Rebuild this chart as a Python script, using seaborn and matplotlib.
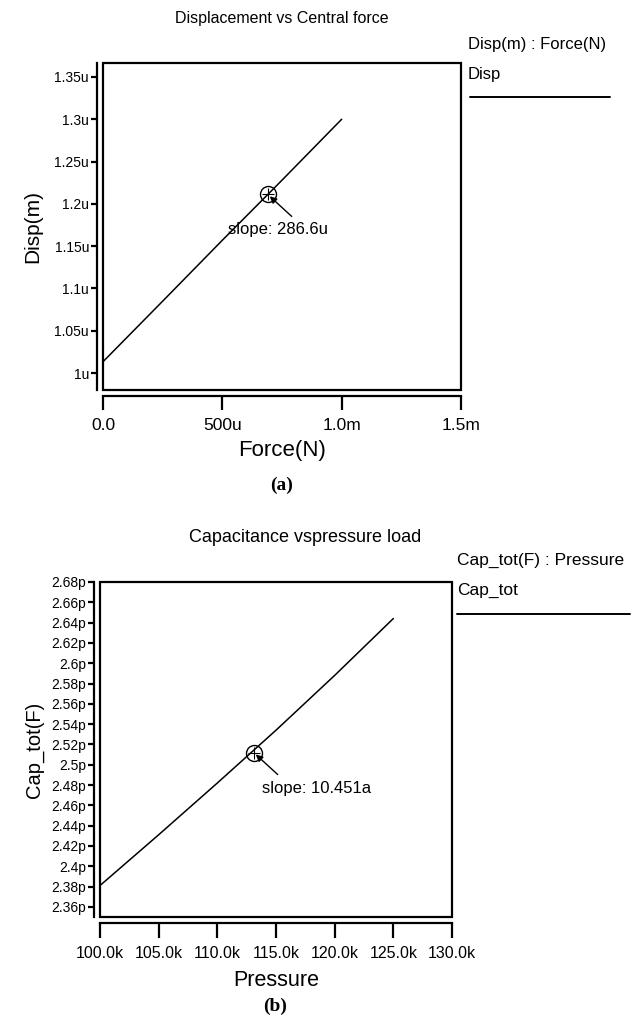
import matplotlib
matplotlib.use("Agg")
import matplotlib.pyplot as plt
from matplotlib.patches import Rectangle
from matplotlib.lines import Line2D
import seaborn as sns
import pandas as pd

# ---------------- data ----------------
force_N = [0.0, 0.25e-3, 0.5e-3, 0.75e-3, 1.0e-3]
disp_m = [1.0134e-6, 1.085e-6, 1.157e-6, 1.228e-6, 1.300e-6]
force_xticks = [0.0, 0.5e-3, 1.0e-3, 1.5e-3]
force_xticklabels = ["0.0", "500u", "1.0m", "1.5m"]
disp_yticks = [1.0e-6, 1.05e-6, 1.1e-6, 1.15e-6, 1.2e-6, 1.25e-6, 1.3e-6, 1.35e-6]
disp_yticklabels = ["1u", "1.05u", "1.1u", "1.15u", "1.2u", "1.25u", "1.3u", "1.35u"]
slope_a_xy = (0.69e-3, 1.2112e-6)
slope_a_text = "slope: 286.6u"

pressure = [100e3, 105e3, 110e3, 115e3, 120e3, 125e3]
cap_F = [2.381e-12, 2.431e-12, 2.482e-12, 2.534e-12, 2.588e-12, 2.644e-12]
pressure_xticks = [100e3, 105e3, 110e3, 115e3, 120e3, 125e3, 130e3]
pressure_xticklabels = ["100.0k", "105.0k", "110.0k", "115.0k", "120.0k", "125.0k", "130.0k"]
cap_yticks = [2.36e-12 + 0.02e-12 * i for i in range(17)]
cap_yticklabels = ["2.36p", "2.38p", "2.4p", "2.42p", "2.44p", "2.46p", "2.48p", "2.5p",
                   "2.52p", "2.54p", "2.56p", "2.58p", "2.6p", "2.62p", "2.64p", "2.66p", "2.68p"]
slope_b_xy = (113.1e3, 2.512e-12)
slope_b_text = "slope: 10.451a"

# ---------------- style ----------------
sns.set_theme(style="white")
plt.rcParams["font.family"] = ["Liberation Sans", "DejaVu Sans"]
plt.rcParams.update({"text.color": "black", "axes.labelcolor": "black",
                     "xtick.color": "black", "ytick.color": "black"})

W, H = 634, 1024
fig = plt.figure(figsize=(W / 100, H / 100), dpi=100)


def px_axes(l, t, r, b):
    return fig.add_axes([l / W, 1 - b / H, (r - l) / W, (b - t) / H])


def style_axes(ax, xticks, xlabels, yticks, ylabels, xtick_fs, ytick_fs, xlen):
    for s in ["top", "right"]:
        ax.spines[s].set_visible(False)
    for s in ["left", "bottom"]:
        ax.spines[s].set_color("black")
        ax.spines[s].set_linewidth(1.6)
        ax.spines[s].set_position(("outward", 4))
    ax.add_patch(Rectangle((0, 0), 1, 1, transform=ax.transAxes, fill=False,
                           edgecolor="black", linewidth=1.6, clip_on=False, zorder=5))
    ax.set_xticks(xticks)
    ax.set_xticklabels(xlabels, fontsize=xtick_fs, color="black")
    ax.set_yticks(yticks)
    ax.set_yticklabels(ylabels, fontsize=ytick_fs, color="black")
    ax.tick_params(axis="x", direction="out", length=xlen, width=1.6, color="black", pad=6,
                   bottom=True)
    ax.tick_params(axis="y", direction="out", length=4, width=1.6, color="black", pad=2,
                   left=True)
    ax.grid(False)


def marker(ax, xy, text, text_off):
    ax.plot([xy[0]], [xy[1]], marker="o", ms=11.5, mfc="none", mec="black", mew=1.0,
            zorder=6)
    ax.plot([xy[0]], [xy[1]], marker="+", ms=8, mec="black", mew=0.8, zorder=6,
            linestyle="none")
    ax.annotate("", xy=xy, xytext=(24, -22), textcoords="offset pixels",
                arrowprops=dict(arrowstyle="-|>", color="black", lw=1.0,
                                shrinkA=0, shrinkB=2, mutation_scale=10), zorder=7)
    ax.annotate(text, xy=xy, xytext=text_off, textcoords="offset pixels",
                ha="left", va="center", fontsize=12, color="black")


# ---------------- top chart ----------------
ax1 = px_axes(103, 63, 461, 390)
df1 = pd.DataFrame({"Force": force_N, "Disp": disp_m})
sns.lineplot(data=df1, x="Force", y="Disp", ax=ax1, color="black", linewidth=1.1)
ax1.set_xlim(0, 1.5e-3)
ax1.set_ylim(0.98e-6, 1.3665e-6)
style_axes(ax1, force_xticks, force_xticklabels, disp_yticks, disp_yticklabels,
           12.5, 10, 10)
ax1.set_xlabel("Force(N)", fontsize=16, labelpad=5)
ax1.set_ylabel("Disp(m)", fontsize=15, labelpad=9)
marker(ax1, slope_a_xy, slope_a_text, (-40, -35))

fig.text(282 / W, 1 - 18 / H, "Displacement vs Central force", ha="center", va="center",
         fontsize=11.5)
fig.text(468 / W, 1 - 45 / H, "Disp(m) : Force(N)", ha="left", va="center", fontsize=12)
fig.text(468 / W, 1 - 75 / H, "Disp", ha="left", va="center", fontsize=12)
fig.add_artist(Line2D([470 / W, 610 / W], [1 - 97 / H, 1 - 97 / H], color="black", lw=1.4))
fig.text(282 / W, 1 - 485 / H, "(a)", ha="center", va="center", fontsize=14,
         fontweight="bold", family=["Liberation Serif", "DejaVu Serif"])

# ---------------- bottom chart ----------------
ax2 = px_axes(100, 582, 452, 917)
df2 = pd.DataFrame({"Pressure": pressure, "Cap": cap_F})
sns.lineplot(data=df2, x="Pressure", y="Cap", ax=ax2, color="black", linewidth=1.1)
ax2.set_xlim(100e3, 130e3)
ax2.set_ylim(2.35e-12, 2.68e-12)
style_axes(ax2, pressure_xticks, pressure_xticklabels, cap_yticks, cap_yticklabels,
           11.5, 10, 11)
ax2.set_xlabel("Pressure", fontsize=15.5, labelpad=6)
ax2.set_ylabel("Cap_tot(F)", fontsize=14.5, labelpad=5)
marker(ax2, slope_b_xy, slope_b_text, (8, -36))

fig.text(305 / W, 1 - 538 / H, "Capacitance vspressure load", ha="center", va="center",
         fontsize=13)
fig.text(457 / W, 1 - 560 / H, "Cap_tot(F) : Pressure", ha="left", va="center",
         fontsize=12.5)
fig.text(457 / W, 1 - 590 / H, "Cap_tot", ha="left", va="center", fontsize=12.5)
fig.add_artist(Line2D([457 / W, 630 / W], [1 - 614 / H, 1 - 614 / H], color="black", lw=1.4))
fig.text(275 / W, 1 - 1006 / H, "(b)", ha="center", va="center", fontsize=14,
         fontweight="bold", family=["Liberation Serif", "DejaVu Serif"])

fig.savefig("out.png", dpi=100, facecolor="white")
